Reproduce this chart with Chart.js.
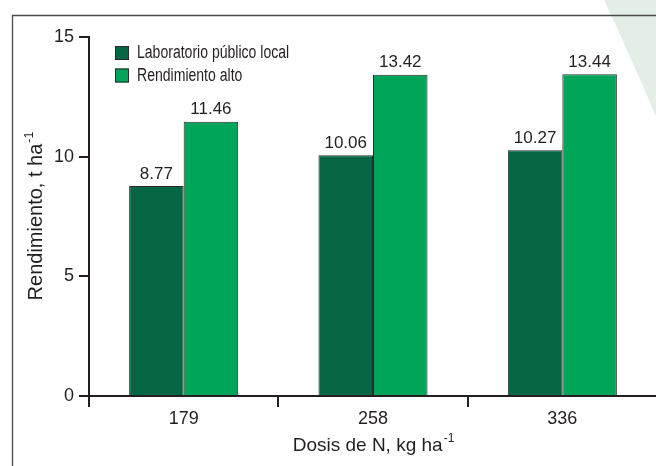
<!DOCTYPE html>
<html>
<head>
<meta charset="utf-8">
<script src="https://cdn.jsdelivr.net/npm/chart.js@4"></script>
<style>
html,body{margin:0;padding:0;background:#fff;overflow:hidden;}
#wrap{position:absolute;left:0;top:0;width:660px;height:466px;}
</style>
</head>
<body>
<div id="wrap"><canvas id="c"></canvas></div>
<script>
const categories = ['179', '258', '336'];
const seriesNames = ['Laboratorio público local', 'Rendimiento alto'];
const labValues = [8.77, 10.06, 10.27];
const altoValues = [11.46, 13.42, 13.44];
const yTicks = [0, 5, 10, 15];
const xTitle = ['Dosis de N, kg ha', '-1'];
const yTitle = ['Rendimiento, t ha', '-1'];

const DARK = 'rgb(4,102,67)';
const LIGHT = 'rgb(0,165,89)';
const INK = '#231f20';
const FONT = '"Liberation Sans", Arial, sans-serif';

function drawSupText(ctx, main, sup, cx, cy, size, supSize) {
  ctx.font = size + 'px ' + FONT;
  const w1 = ctx.measureText(main).width;
  ctx.font = supSize + 'px ' + FONT;
  const w2 = ctx.measureText(sup).width;
  const x0 = cx - (w1 + w2) / 2;
  ctx.textAlign = 'left';
  ctx.textBaseline = 'alphabetic';
  const base = cy + size * 0.36;
  ctx.font = size + 'px ' + FONT;
  ctx.fillText(main, x0, base);
  ctx.font = supSize + 'px ' + FONT;
  ctx.fillText(sup, x0 + w1 + 1, base - size * 0.45);
}

const decor = {
  id: 'decor',
  beforeDraw(chart) {
    const ctx = chart.ctx;
    ctx.save();
    ctx.fillStyle = '#fff';
    ctx.fillRect(0, 0, chart.width, chart.height);
    // light green decorative wedge
    ctx.fillStyle = '#e3efe6';
    ctx.beginPath();
    ctx.moveTo(604, 0);
    ctx.quadraticCurveTo(630, 55, 657, 119);
    ctx.lineTo(660, 119);
    ctx.lineTo(660, 0);
    ctx.closePath();
    ctx.fill();
    // frame
    ctx.strokeStyle = '#4a4a4a';
    ctx.lineWidth = 1.3;
    ctx.beginPath();
    ctx.moveTo(12.5, 470);
    ctx.lineTo(12.5, 15.5);
    ctx.lineTo(660, 15.5);
    ctx.stroke();
    ctx.restore();
  },
  afterDatasetsDraw(chart) {
    const ctx = chart.ctx;
    ctx.save();
    ctx.fillStyle = INK;
    ctx.font = '17px ' + FONT;
    ctx.textAlign = 'center';
    ctx.textBaseline = 'alphabetic';
    chart.data.datasets.forEach((ds, i) => {
      chart.getDatasetMeta(i).data.forEach((bar, j) => {
        ctx.fillText(ds.data[j].toFixed(2), bar.x, bar.y - 7.5);
      });
    });
    ctx.restore();
  },
  afterDraw(chart) {
    const ctx = chart.ctx;
    const area = chart.chartArea;
    ctx.save();
    // legend
    chart.data.datasets.forEach((ds, i) => {
      const y = 46 + i * 22.5;
      ctx.fillStyle = ds.backgroundColor;
      ctx.fillRect(115, y, 14, 14);
      ctx.strokeStyle = '#2b2b2b';
      ctx.lineWidth = 1;
      ctx.strokeRect(115.5, y + 0.5, 13, 13);
      ctx.fillStyle = INK;
      ctx.font = '18px ' + FONT;
      ctx.textAlign = 'left';
      ctx.textBaseline = 'middle';
      ctx.save();
      ctx.translate(137, y + 7.5);
      ctx.scale(0.78, 1);
      ctx.fillText(ds.label, 0, 0);
      ctx.restore();
    });
    ctx.fillStyle = INK;
    // x title
    drawSupText(ctx, xTitle[0], xTitle[1], (area.left + area.right) / 2, 444, 19, 12);
    // y title
    ctx.save();
    ctx.translate(35, (area.top + area.bottom) / 2);
    ctx.rotate(-Math.PI / 2);
    drawSupText(ctx, yTitle[0], yTitle[1], 0, 0, 20, 12.5);
    ctx.restore();
    ctx.restore();
  }
};

new Chart(document.getElementById('c'), {
  type: 'bar',
  data: {
    labels: categories,
    datasets: [
      { label: seriesNames[0], data: labValues, backgroundColor: DARK, borderColor: '#2b2b2b', borderWidth: 1 },
      { label: seriesNames[1], data: altoValues, backgroundColor: LIGHT, borderColor: '#2b2b2b', borderWidth: 1 }
    ]
  },
  options: {
    responsive: true,
    maintainAspectRatio: false,
    animation: false,
    events: [],
    layout: { padding: { left: 0, right: 3, top: 37, bottom: 0 } },
    datasets: { bar: { categoryPercentage: 0.576, barPercentage: 1.0 } },
    plugins: { legend: { display: false }, tooltip: { enabled: false } },
    scales: {
      x: {
        afterFit(scale) { scale.height = 70; },
        grid: { offset: true, drawOnChartArea: false, drawTicks: true, tickLength: 11, color: INK, lineWidth: 2 },
        border: { display: true, color: INK, width: 2 },
        ticks: { color: INK, font: { family: FONT, size: 18 }, padding: 1 }
      },
      y: {
        min: 0,
        max: 15,
        afterFit(scale) { scale.width = 89; },
        afterBuildTicks(scale) { scale.ticks = yTicks.map(v => ({ value: v })); },
        grid: { drawOnChartArea: false, drawTicks: true, tickLength: 10, color: INK, lineWidth: 2 },
        border: { display: true, color: INK, width: 2 },
        ticks: { color: INK, font: { family: FONT, size: 18 }, padding: 5 }
      }
    }
  },
  plugins: [decor]
});
</script>
</body>
</html>
